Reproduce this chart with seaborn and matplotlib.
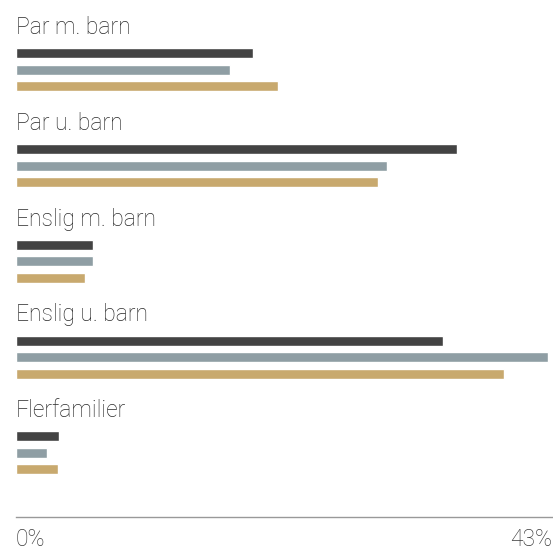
import matplotlib
matplotlib.use("Agg")
import matplotlib.pyplot as plt
import seaborn as sns
import pandas as pd

categories = ["Par m. barn", "Par u. barn", "Enslig m. barn", "Enslig u. barn", "Flerfamilier"]
series_names = ["Serie 1", "Serie 2", "Serie 3"]
serie1 = [19.2, 35.7, 6.2, 34.5, 3.5]
serie2 = [17.3, 30.0, 6.2, 43.0, 2.5]
serie3 = [21.2, 29.3, 5.6, 39.5, 3.4]
tick_labels = ["0%", "43%"]
colors = ["#434343", "#8f9ea4", "#c8a96e"]

rows = []
for name, vals in zip(series_names, [serie1, serie2, serie3]):
    for c, v in zip(categories, vals):
        rows.append({"category": c, "series": name, "value": v})
df = pd.DataFrame(rows)

sns.set_theme(style="white")
plt.rcParams['font.family'] = ['Roboto', 'DejaVu Sans']

fig = plt.figure(figsize=(5.53, 5.55), dpi=100)
ax = fig.add_axes([16.0 / 553, 38 / 555, (552 - 16.0) / 553, 517 / 555])

sns.barplot(data=df, x="value", y="category", hue="series", orient="h",
            palette=colors, width=0.516, gap=0.4, ax=ax, legend=False,
            order=categories, hue_order=series_names, saturation=1)

xmax = 43.35
ax.set_xlim(0, xmax)
ax.set_ylim(4.67, -0.73)

for i, c in enumerate(categories):
    ax.text(0, i - 0.44, c, ha="left", va="center", fontsize=16.5,
            fontweight="light", color="#2a2a2a")

ax.set_xticks([0, xmax])
ax.set_xticklabels(tick_labels)
labs = ax.get_xticklabels()
labs[0].set_ha("left")
labs[1].set_ha("right")
ax.tick_params(axis="x", length=0, pad=8, labelsize=16.5, labelcolor="#3a3a3a")
for l in labs:
    l.set_fontweight("light")
ax.set_yticks([])
ax.set_xlabel("")
ax.set_ylabel("")
for s in ["top", "right", "left"]:
    ax.spines[s].set_visible(False)
ax.spines["bottom"].set_color("#999999")
ax.spines["bottom"].set_linewidth(1)

fig.savefig("out.png", dpi=100)
